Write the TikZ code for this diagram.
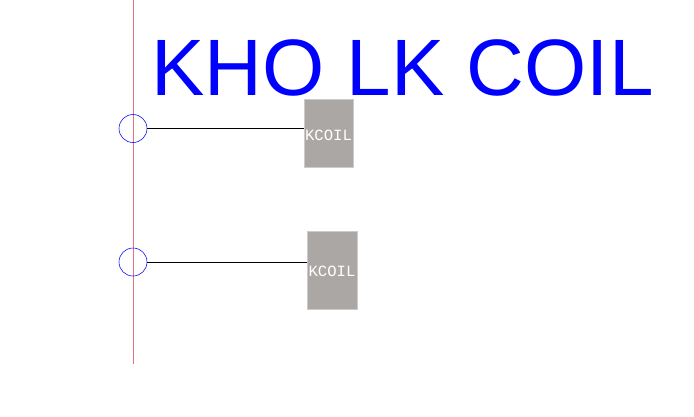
\documentclass[tikz,border=0pt]{standalone}
\usepackage{fontspec}
\setmainfont{Liberation Sans}
\newfontfamily\coilfont{Liberation Mono}
\usetikzlibrary{positioning}
\definecolor{coilgrey}{rgb}{0.67, 0.655, 0.647}
\definecolor{busred}{rgb}{0.88, 0.45, 0.5}

\begin{document}
\begin{tikzpicture}[x=1pt, y=-1pt,
        pin/.style={circle, draw=blue, inner sep=0pt, minimum size=28pt, line width=0.55pt},
        coil/.style={inner sep=0pt, fill=coilgrey, draw=coilgrey!60!white, line width=0.5pt},
        coillabel/.style={inner sep=0pt, text=white, font=\coilfont\fontsize{15.6}{15.6}\selectfont}]
        \useasboundingbox (0,0) rectangle (694,416);

        \coordinate (bustop) at (133,0);
        \coordinate (busend) at (133,364);
        \draw [draw=busred, line width=1pt] (bustop) -- (busend);

        \node (title) [inner sep=0pt, text=blue, font=\fontsize{80}{80}\selectfont] at (402.5,67.5) {KHO LK COIL};

        \node (P1) [pin] at (133,128.5) {};
        \node (P2) [pin] at (133,262) {};

        \node (C1) [coil, minimum width=49.5pt, minimum height=68.5pt] at (328.75,133.25) {};
        \node (C2) [coil, minimum width=50pt, minimum height=78pt] at (332.5,270) {};

        \node (L1) [coillabel] at (328.5,135) {KCOIL};
        \node (L2) [coillabel] at (332,271) {KCOIL};

        \draw [black, line width=0.7pt] (P1) -- (P1 -| C1.west);
        \draw [black, line width=0.7pt] (P2) -- (P2 -| C2.west);
    \end{tikzpicture}
\end{document}
